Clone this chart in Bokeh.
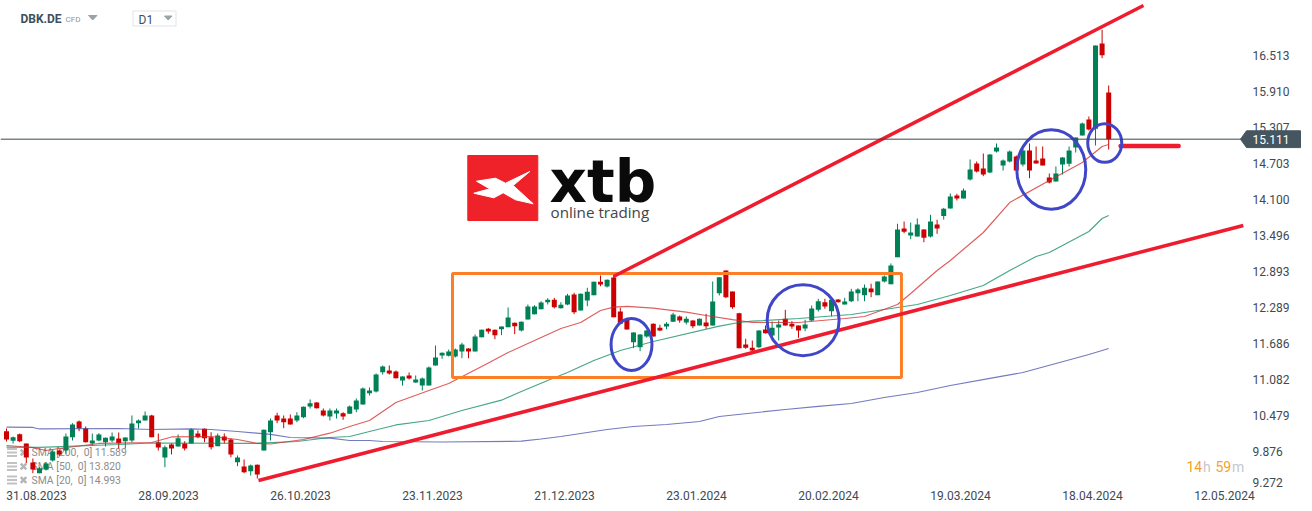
from bokeh.plotting import figure
from bokeh.embed import file_html
from bokeh.resources import INLINE
from bokeh.core.properties import value
from bokeh.models import FixedTicker, Label, PolyAnnotation

OPEN = [10.22,10.06,10.17,10.014,9.696,9.516,9.578,9.729,9.896,9.896,10.119,10.382,10.265,10.014,10.064,10.036,10.064,10.098,10.052,10.064,
10.354,10.399,10.483,10.036,9.779,9.997,9.964,10.014,10.014,10.181,10.26,10.119,9.969,10.131,10.081,9.70,9.628,9.55,9.657,9.896,
10.203,10.483,10.432,10.432,10.399,10.454,10.634,10.7,10.566,10.466,10.516,10.521,10.511,10.583,10.667,10.856,10.885,11.208,11.237,11.22,
11.069,11.153,11.036,10.985,10.985,11.32,11.488,11.483,11.471,11.555,11.605,11.555,11.794,11.935,11.918,11.928,11.962,12.036,11.907,12.091,
12.179,12.263,12.381,12.421,12.28,12.342,12.51,12.242,12.409,12.498,12.722,12.644,12.794,12.225,12.086,11.71,11.627,11.806,12.019,11.952,
11.974,12.052,12.141,12.04,12.074,11.99,12.04,11.99,12.531,12.912,12.56,12.196,11.672,11.617,11.627,11.923,11.823,11.957,12.102,12.019,
11.99,11.94,12.074,12.253,12.381,12.23,12.426,12.342,12.397,12.531,12.498,12.61,12.498,12.727,12.682,13.134,13.615,13.498,13.481,13.598,
13.481,13.682,13.826,13.95,14.168,14.118,14.436,14.704,14.62,14.553,14.905,14.67,14.737,14.821,14.687,14.922,14.754,14.788,14.469,14.402,
14.687,14.699,14.972,15.173,15.441,15.285,16.714,15.893]
HIGH = [10.265,10.131,10.181,10.014,9.763,9.617,9.70,9.913,9.913,10.181,10.354,10.399,10.299,10.181,10.186,10.114,10.198,10.198,10.119,10.483,
10.416,10.55,10.495,10.181,9.98,10.014,10.165,10.052,10.265,10.232,10.265,10.203,10.181,10.181,10.098,9.813,9.746,9.662,9.662,10.248,
10.433,10.528,10.483,10.5,10.538,10.634,10.751,10.706,10.60,10.60,10.6,10.538,10.65,10.768,10.952,10.952,11.186,11.32,11.32,11.237,
11.141,11.203,11.153,11.119,11.304,11.655,11.538,11.588,11.605,11.70,11.61,11.84,11.923,11.95,11.923,11.974,12.292,12.04,12.057,12.342,
12.33,12.397,12.447,12.454,12.381,12.521,12.538,12.526,12.622,12.727,12.828,12.761,12.828,12.287,12.091,11.878,11.845,11.912,12.024,12.002,
12.046,12.203,12.158,12.141,12.079,12.107,12.186,12.727,12.799,12.912,12.56,12.203,11.768,11.739,11.912,11.99,12.057,12.074,12.253,12.062,
11.99,12.086,12.325,12.437,12.437,12.426,12.431,12.454,12.605,12.615,12.677,12.689,12.727,12.828,13.029,13.694,13.732,13.715,13.783,13.603,
13.844,13.761,13.96,14.201,14.196,14.285,14.771,14.737,14.871,14.86,15.039,14.771,14.922,14.838,14.95,15.039,14.989,14.989,14.536,14.654,
14.809,14.989,15.139,15.39,15.491,16.68,16.943,16.01]
LOW = [10.047,10.014,10.036,9.684,9.516,9.516,9.561,9.712,9.796,9.846,10.064,10.22,10.03,9.98,10.052,9.963,10.036,9.93,9.93,10.036,
10.265,10.399,10.119,9.896,9.617,9.83,9.964,9.896,10.009,10.102,10.036,9.913,9.969,10.014,9.784,9.634,9.516,9.478,9.427,9.896,
10.064,10.354,10.27,10.332,10.37,10.438,10.60,10.60,10.466,10.399,10.432,10.41,10.511,10.538,10.667,10.818,10.868,11.169,11.169,11.103,
10.985,11.086,11.03,10.902,10.985,11.32,11.432,11.471,11.454,11.442,11.442,11.555,11.789,11.851,11.761,11.828,11.962,11.845,11.89,12.091,
12.174,12.263,12.342,12.275,12.275,12.33,12.18,12.242,12.313,12.498,12.648,12.627,12.129,12.019,11.923,11.61,11.56,11.785,11.806,11.895,
11.928,12.052,12.036,12.007,11.945,11.99,11.935,11.99,12.493,12.448,12.27,11.61,11.6,11.56,11.61,11.856,11.806,11.739,11.99,11.935,
11.784,11.895,12.057,12.225,12.27,12.146,12.375,12.342,12.381,12.397,12.397,12.464,12.498,12.71,12.682,13.134,13.536,13.436,13.481,13.385,
13.464,13.526,13.764,13.95,14.084,14.118,14.419,14.553,14.491,14.541,14.888,14.586,14.72,14.586,14.654,14.457,14.704,14.67,14.369,14.402,
14.519,14.654,14.888,15.173,15.257,15.005,16.467,14.938]
CLOSE = [10.08,10.12,10.052,9.779,9.578,9.60,9.679,9.88,9.829,10.131,10.332,10.27,10.036,10.064,10.165,10.109,10.131,10.019,10.114,10.349,
10.399,10.483,10.119,9.947,9.952,9.93,10.102,9.93,10.248,10.119,10.102,9.952,10.148,10.064,9.83,9.779,9.533,9.645,9.495,10.243,
10.399,10.399,10.37,10.332,10.483,10.628,10.689,10.605,10.483,10.566,10.566,10.466,10.634,10.734,10.935,10.902,11.169,11.303,11.186,11.108,
11.136,11.103,11.086,11.103,11.287,11.454,11.533,11.555,11.588,11.672,11.555,11.806,11.918,11.89,11.828,11.974,12.124,11.979,12.052,12.308,
12.308,12.375,12.421,12.297,12.337,12.493,12.213,12.521,12.555,12.722,12.677,12.756,12.129,12.019,11.923,11.873,11.84,11.907,11.806,11.907,
12.019,12.175,12.074,12.102,11.979,12.102,11.979,12.392,12.799,12.464,12.297,11.61,11.617,11.571,11.907,11.861,11.952,12.007,11.99,11.974,
11.907,12.007,12.275,12.397,12.308,12.421,12.381,12.392,12.56,12.593,12.622,12.548,12.727,12.811,12.995,13.598,13.56,13.548,13.682,13.459,
13.732,13.615,13.944,14.151,14.118,14.252,14.603,14.57,14.52,14.854,14.972,14.754,14.905,14.586,14.922,14.586,14.704,14.67,14.385,14.536,
14.804,14.922,15.139,15.374,15.273,16.68,16.518,15.111]

SMA200_IDX = [0,4,5,17,22,28,31,35,40,43,49,52,55,57,66,78,81,84,91,95,100,105,108,118,123,128,133,138,143,149,154,159,164,167]
SMA200 = [10.287,10.282,10.257,10.265,10.248,10.257,10.248,10.215,10.165,10.114,10.103,10.064,10.064,10.047,10.039,10.052,10.089,10.131,10.248,10.298,10.332,10.382,10.466,10.583,10.634,10.684,10.784,10.868,10.985,11.103,11.203,11.354,11.505,11.605]
SMA50_IDX = [0,5,17,22,37,44,49,52,55,59,64,69,75,78,82,85,89,93,98,108,111,113,120,128,138,143,148,152,156,158,160,164,166,167]
SMA50 = [9.952,9.947,9.997,10.022,10.014,10.047,10.114,10.131,10.215,10.324,10.399,10.567,10.739,10.885,11.069,11.203,11.404,11.571,11.722,11.979,12.04,12.062,12.107,12.174,12.342,12.493,12.66,12.911,13.146,13.213,13.33,13.565,13.783,13.833]
SMA20_IDX = [0,4,6,8,14,22,25,31,35,38,40,45,49,52,55,59,64,67,72,76,80,82,84,87,90,92,94,98,103,106,110,113,120,127,130,135,137,141,143,148,152,158,163,166,167]
SMA20 = [9.98,9.947,9.896,9.93,10.014,10.03,10.123,10.131,10.081,10.014,10.005,10.081,10.186,10.298,10.399,10.7,10.902,11.019,11.304,11.538,11.739,11.84,11.94,12.04,12.242,12.297,12.309,12.28,12.213,12.158,12.09,12.04,12.04,12.107,12.141,12.342,12.526,12.911,13.079,13.548,14.05,14.419,14.72,14.989,15.022]

PRICE_TICKS = [16.513,15.910,15.307,14.703,14.100,13.496,12.893,12.289,11.686,11.082,10.479,9.876]
LOWEST_TICK = "9.272"
LOWEST_TICK_POS = 9.367
DATE_IDX = [0,20,40,60,80,100,120,140,160,180]
DATE_LABELS = ["31.08.2023","28.09.2023","26.10.2023","23.11.2023","21.12.2023","23.01.2024","20.02.2024","19.03.2024","18.04.2024","12.05.2024"]
LAST_PRICE = 15.111

UPPER_TREND_X = [91.97,172.27]; UPPER_TREND_Y = [12.811,17.35]
LOWER_TREND_X = [38.18,187.4]; LOWER_TREND_Y = [9.394,13.665]
SUPPORT_X = [168.8,177.6]; SUPPORT_Y = [14.996,14.996]
BOX_X = [67.58,135.6]; BOX_Y = [11.119,12.861]
CIRCLE_X = [94.7,120.7,158.3,166.4]; CIRCLE_Y = [11.672,12.079,14.603,15.047]
CIRCLE_W = [6.2,10.9,10.45,5.15]; CIRCLE_H = [0.871,1.19,1.33,0.647]

PX_PER_BAR = 6.6
PX_PER_PRICE = 59.7
FRAME_W, FRAME_H = 1312, 487
AXIS_PX = 1248
def xd(px): return (px - 6) / PX_PER_BAR
def yd(py): return 17.434 - py / PX_PER_PRICE

GREEN, RED = "#008055", "#cc0000"
TXT = "#3e4a52"

p = figure(width=1312, height=511, output_backend="svg", toolbar_location=None,
           x_range=(xd(0), xd(FRAME_W)), y_range=(yd(FRAME_H), yd(0)),
           y_axis_location="right", min_border_left=0, min_border_top=0,
           min_border_right=0, min_border_bottom=511-FRAME_H)
p.outline_line_color = None
p.grid.visible = False
p.background_fill_color = "white"

p.yaxis.fixed_location = xd(AXIS_PX)
p.yaxis.ticker = FixedTicker(ticks=PRICE_TICKS + [LOWEST_TICK_POS])
p.yaxis.major_label_overrides = {**{t: f"{t:.3f}" for t in PRICE_TICKS}, LOWEST_TICK_POS: LOWEST_TICK}
half_label = 30 / PX_PER_BAR
date_pos = [i + half_label for i in DATE_IDX]
p.xaxis.ticker = FixedTicker(ticks=date_pos)
p.xaxis.major_label_overrides = dict(zip(date_pos, DATE_LABELS))
for ax in (p.xaxis[0], p.yaxis[0]):
    ax.axis_line_color = None
    ax.major_tick_line_color = None
    ax.minor_tick_line_color = None
    ax.major_label_text_font = "Roboto"
    ax.major_label_text_font_size = "12px"
    ax.major_label_text_color = TXT
    ax.major_tick_out = 0
    ax.major_tick_in = 0
p.yaxis.major_label_standoff = 4
p.xaxis.major_label_standoff = 3

def txt(px, py, s, size, color, style="normal", align="left"):
    p.text([xd(px)], [yd(py)], text=[s], text_font=value("Roboto"), text_font_size=size,
           text_color=color, text_font_style=style, text_align=align, text_baseline="middle")

# header
txt(20, 18.5, "DBK.DE", "12px", "#3e4f5c", "bold")
txt(65, 19, "CFD", "8px", "#8c969c")
p.patch([xd(88), xd(96.5), xd(92.2)], [yd(15), yd(15), yd(19.5)], color="#9aa3a8")
p.quad(left=[xd(132.5)], right=[xd(175.5)], top=[yd(10.5)], bottom=[yd(25.5)], fill_color=None, line_color="#e0e3e5", line_width=1)
txt(138, 19.5, "D1", "12px", "#3e4f5c")
p.patch([xd(164), xd(171.5), xd(167.7)], [yd(15.5), yd(15.5), yd(19.5)], color="#9aa3a8")

# indicator legend
LEGEND_GREY = "#8d8d8d"
for py, label in [(452, "SMA [200,\u00a0 0] 11.589"), (466, "SMA [50,\u00a0 0] 13.820"), (479.5, "SMA [20,\u00a0 0] 14.993")]:
    for dy in (-3.5, 0, 3.5):
        p.line([xd(6.5), xd(16.5)], [yd(py + dy), yd(py + dy)], line_color="#c2c2c2", line_width=2)
    p.scatter([xd(23)], [yd(py)], marker="x", size=8, line_color="#b5b5b5", line_width=2.5)
    txt(31, py, label, "10.4px", LEGEND_GREY)

# logo
p.quad(left=[xd(467.3)], right=[xd(537.3)], top=[yd(155)], bottom=[yd(220)], color="#ef2129")
LOGO_X = [476,495,505,529.3,512.7,532.7,515,502.7,493.3,473.3,489.3]
LOGO_Y = [180.7,177.7,182.7,171,185,203.3,199.3,192.3,197.3,192.7,188.3]
p.patch([xd(v) for v in LOGO_X], [yd(v) for v in LOGO_Y], color="white")
p.text([xd(549)], [yd(181)], text=["xtb"], text_font=value("DejaVu Sans"), text_font_style="bold",
       text_font_size="58px", text_color="#0a0a0a", text_baseline="middle", text_align="left")
p.text([xd(550)], [yd(211)], text=["online trading"], text_font=value("Open Sans"),
       text_font_size="15.2px", text_color="#444444", text_baseline="middle", text_align="left")

# candles
idx = list(range(len(OPEN)))
for want_up, col in ((True, GREEN), (False, RED)):
    sel = [i for i in idx if (CLOSE[i] >= OPEN[i]) == want_up]
    p.segment([i for i in sel], [HIGH[i] for i in sel], [i for i in sel], [LOW[i] for i in sel],
              line_color=col, line_width=1)
    p.vbar([i for i in sel], width=5 / PX_PER_BAR, top=[max(OPEN[i], CLOSE[i]) for i in sel],
           bottom=[min(OPEN[i], CLOSE[i]) for i in sel], fill_color=col, line_color=None)

# moving averages
p.line(SMA200_IDX, SMA200, line_color="#3f46a8", line_width=1.2, line_alpha=0.72)
p.line(SMA50_IDX, SMA50, line_color="#0a8a5f", line_width=1.2, line_alpha=0.75)
p.line(SMA20_IDX, SMA20, line_color="#d42a2a", line_width=1.2, line_alpha=0.75)

# drawings
p.quad(left=[BOX_X[0]], right=[BOX_X[1]], bottom=[BOX_Y[0]], top=[BOX_Y[1]], fill_color=None,
       line_color="#fc7f28", line_width=3)
p.line(UPPER_TREND_X, UPPER_TREND_Y, line_color="#ee1c2e", line_width=3.5)
p.line(LOWER_TREND_X, LOWER_TREND_Y, line_color="#ee1c2e", line_width=3.5)
p.line(SUPPORT_X, SUPPORT_Y, line_color="#ee1c2e", line_width=4.5, line_cap="round")
p.ellipse(CIRCLE_X, CIRCLE_Y, width=CIRCLE_W, height=CIRCLE_H, fill_color=None, line_color="#3f46c8", line_width=3)

# last price
p.segment([xd(0)], [LAST_PRICE], [xd(1242)], [LAST_PRICE], line_color="#37474f", line_width=1)
half = 8.4 / PX_PER_PRICE
p.add_layout(PolyAnnotation(
    xs=[xd(1240), xd(1246), xd(1300), xd(1300), xd(1246)],
    ys=[LAST_PRICE, LAST_PRICE + half, LAST_PRICE + half, LAST_PRICE - half, LAST_PRICE - half],
    fill_color="#455660", fill_alpha=1, line_color="#455660", line_alpha=1))
p.add_layout(Label(x=xd(1252), y=LAST_PRICE, text=f"{LAST_PRICE:.3f}", text_color="white",
                   text_font="Roboto", text_font_size="12px", text_baseline="middle"))

# countdown
ORANGE, PALE = "#f7a128", "#c4c8cb"
txt(1186, 466, "14", "14px", ORANGE)
txt(1202.5, 466, "h", "14px", PALE)
txt(1215, 466, "59", "14px", ORANGE)
txt(1231.5, 466, "m", "14px", PALE)

open("out.html", "w").write(file_html(p, INLINE))
